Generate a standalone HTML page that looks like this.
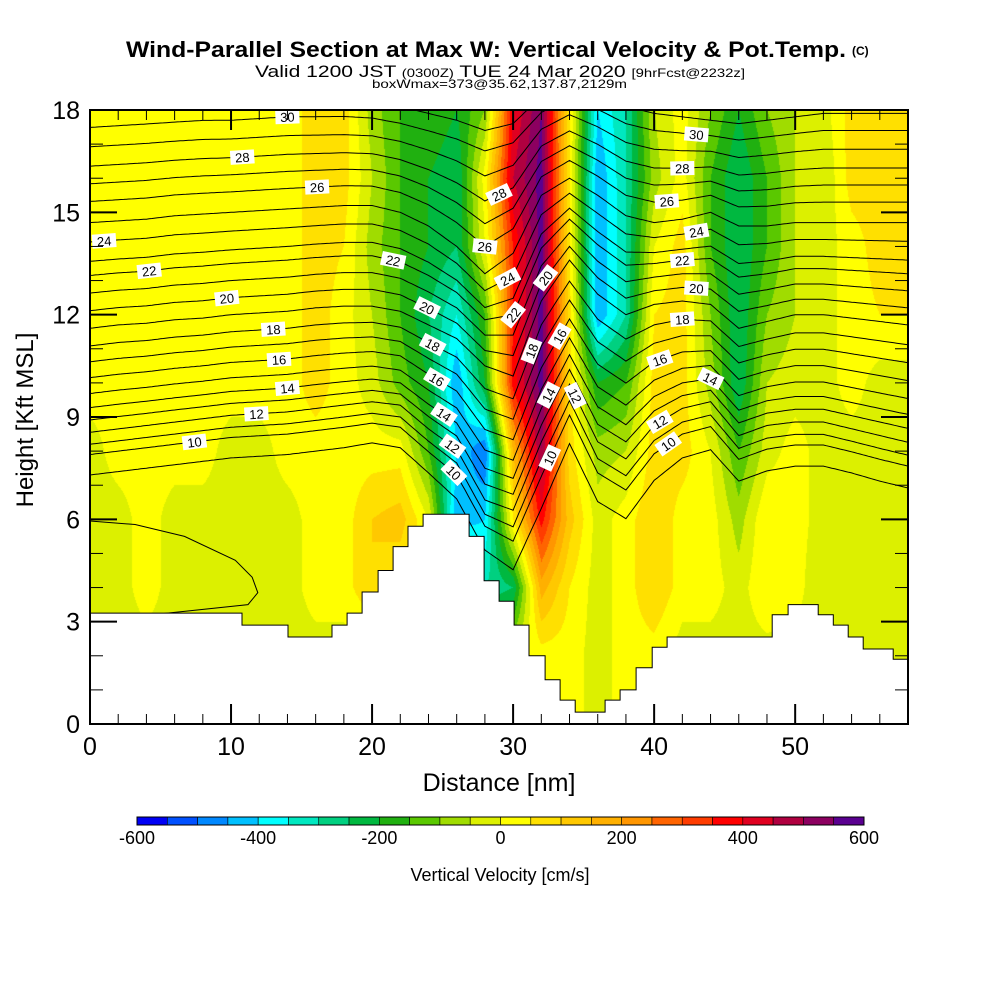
<!DOCTYPE html>
<html><head><meta charset="utf-8"><title>Wind-Parallel Section</title>
<style>
body{margin:0;background:#fff;}
#wrap{position:relative;width:1000px;height:1000px;overflow:hidden;background:#fff;}
canvas{position:absolute;left:90px;top:110px;}
svg{position:absolute;left:0;top:0;}
text{font-family:"Liberation Sans",sans-serif;}
</style></head>
<body>
<div id="wrap">
<canvas id="field" width="818" height="614"></canvas>
<svg id="chart" width="1000" height="1000" viewBox="0 0 1000 1000">
  <defs><clipPath id="plotClip"><rect x="90" y="110" width="818" height="614"/></clipPath></defs>
  <text x="126" y="57" font-size="22" font-weight="bold" textLength="720" lengthAdjust="spacingAndGlyphs">Wind-Parallel Section at Max W: Vertical Velocity &amp; Pot.Temp.</text>
  <text x="852" y="55" font-size="12" font-weight="bold">(C)</text>
  <text x="255" y="77" font-size="17" textLength="490" lengthAdjust="spacingAndGlyphs">Valid 1200 JST <tspan font-size="12">(0300Z)</tspan> TUE 24 Mar 2020 <tspan font-size="12">[9hrFcst@2232z]</tspan></text>
  <text x="372" y="88" font-size="12" textLength="255" lengthAdjust="spacingAndGlyphs">boxWmax=373@35.62,137.87,2129m</text>
  <g id="contours" clip-path="url(#plotClip)"></g>
  <g id="terrain"></g>
  <g id="labels" clip-path="url(#plotClip)"></g>
  <g id="axes"></g>
  <text x="0" y="0" font-size="24" text-anchor="middle" transform="translate(33,420) rotate(-90)">Height [Kft MSL]</text>
  <text x="499" y="791" font-size="25" text-anchor="middle">Distance [nm]</text>
  <g id="colorbar"></g>
  <text x="500" y="881" font-size="18" text-anchor="middle">Vertical Velocity [cm/s]</text>
</svg>
</div>
<script>
// ---- vertical velocity grid (cm/s), columns every 2 nm from 0 to 58, rows every 2 kft ----
const wCols = [0,2,4,6,8,10,12,14,16,18,20,22,24,26,28,30,32,34,36,38,40,42,44,46,48,50,52,54,56,58];
const w00 = [-25,-25,-25,-25,-25,-25,-25,-25,-25,-25,-25,-25,-25,-25,-25,-25,25,25,-25,25,25,-25,-25,-25,-25,-25,-25,-25,-25,-25];
const w02 = [-25,-25,-25,-25,-25,-25,-25,-25,-25,-25,-25,-25,-25,-25,-25,-25,25,25,-25,25,25,-25,-25,-25,-25,-25,-25,-25,-25,-25];
const w04 = [-25,-25,25,-25,-25,-25,-25,-25,25,25,100,50,0,0,-300,-250,175,50,-25,25,100,25,25,-25,50,25,-50,-25,-25,-25];
const w06 = [-25,-25,25,-25,-25,-25,-25,-25,25,25,100,125,0,-450,-400,50,375,125,-25,25,100,25,25,-75,50,25,-25,-25,-25,-25];
const w08 = [-25,25,25,25,25,-25,-25,25,25,25,25,25,-150,-400,-500,150,500,75,-75,-50,75,75,0,-150,-25,25,-25,-25,-25,-25];
const w10 = [25,25,25,25,25,25,25,25,75,25,-25,-125,-200,-450,-200,375,575,75,-200,-150,75,75,-75,-250,-50,-25,-25,25,-25,-25];
const w12 = [25,25,25,25,25,25,25,25,75,25,-50,-150,-250,-350,-150,350,575,75,-450,-300,50,75,-100,-250,-100,-50,-25,25,50,50];
const w14 = [25,25,25,25,25,25,25,25,75,50,-75,-150,-200,-250,0,350,575,50,-450,-300,0,75,-150,-250,-150,-50,-25,25,75,75];
const w16 = [25,25,25,25,25,25,25,25,75,75,-50,-150,-200,-250,25,450,575,50,-450,-300,-75,25,-150,-250,-150,-50,-50,75,75,75];
const w18 = [25,25,25,25,25,25,25,25,75,75,-75,-150,-150,-200,-100,400,550,50,-400,-300,-50,25,-100,-200,-100,-50,-25,75,75,75];
const wRows = [w00,w02,w04,w06,w08,w10,w12,w14,w16,w18];

// ---- colour scale ----
const cbTicks = [-600,-400,-200,0,200,400,600];
const cbColors = ['#0000f5','#0050ff','#0088ff','#00c0ff','#00ffff','#00e8c0','#00d080','#00b840','#20b010','#5ac800','#a0dc00','#dcf000','#ffff00','#ffe000','#ffc800','#ffb000','#ff9600','#ff6400','#ff3c00','#ff0000','#e00020','#b00040','#8c0060','#5a0090'];

// ---- potential temperature contours ----
const thetaLevels = [9,10,11,12,13,14,15,16,17,18,19,20,21,22,23,24,25,26,27,28,29,30,31];
const thetaBase = [7.8,8.4,8.7,9.05,9.4,9.75,10.15,10.6,11.05,11.5,12.0,12.5,13.0,13.5,13.9,14.45,15.0,15.6,16.1,16.6,17.15,17.7,18.2];
const dispHeights = [6,9,12,15,18];
const disp06 = [-0.5,-0.4,-0.3,-0.2,-0.1,0,0.05,0.1,0.2,0.3,0.5,0.3,-0.5,-1.5,-3.0,-4.0,-2.5,-0.3,-2.0,-2.5,-1.2,-0.3,0.0,-0.8,-0.5,-0.3,-0.3,-0.5,-0.8,-1.0];
const disp09 = [-0.5,-0.4,-0.3,-0.2,-0.1,0,0.05,0.1,0.2,0.3,0.4,0.3,-0.4,-1.0,-2.5,-2.8,-0.8,0.9,-0.8,-1.3,-0.3,0.2,0.4,-0.6,-0.3,-0.2,-0.2,-0.4,-0.6,-0.8];
const disp12 = [-0.4,-0.3,-0.25,-0.15,-0.1,0,0.05,0.1,0.2,0.25,0.25,0.1,-0.3,-0.7,-1.5,-1.8,0.4,1.6,0.6,0.0,0.3,0.4,0.3,-0.4,-0.2,0.0,0.0,-0.1,-0.2,-0.3];
const disp15 = [-0.3,-0.25,-0.2,-0.1,-0.05,0,0.05,0.1,0.15,0.2,0.2,0.0,-0.4,-1.0,-1.8,-1.2,0.5,1.0,0.5,-0.1,-0.3,-0.2,0.0,-0.4,-0.4,-0.3,-0.3,-0.3,-0.3,-0.3];
const disp18 = [-0.2,-0.15,-0.1,-0.05,0,0,0.05,0.1,0.1,0.1,0.05,-0.1,-0.3,-0.5,-0.8,-0.6,0.2,0.6,0.3,-0.1,-0.3,-0.4,-0.5,-0.6,-0.5,-0.4,-0.3,-0.3,-0.3,-0.3];
const dispRows = [disp06,disp09,disp12,disp15,disp18];
const theta8X = [0,3.2,6.7,10.3,11.5,11.9,11.2,4.4];
const theta8Z = [5.95,5.85,5.5,4.8,4.3,3.85,3.5,3.2];
const labelLevels = [30,28,26,24,22,20,18,16,14,12,10, 22,20,18,16,14,12,10, 28,26,24,22,20,18,16,14,12,10, 30,28,26,24,22,20,18,16,14,12,10];
const labelX = [14.0,10.8,16.1,1.0,4.2,9.7,13.0,13.4,14.0,11.8,7.4, 21.5,23.9,24.3,24.6,25.1,25.7,25.8, 29.0,28.0,29.6,30.0,32.3,31.3,33.3,32.5,34.4,32.6, 43,42,40.9,43,42,43,42,40.4,44,40.4,41];

// ---- terrain steps ----
const terrX = [0,10.78,14.04,17.16,18.23,19.29,20.43,21.49,22.55,23.62,26.88,27.94,29.01,30.07,31.13,32.27,33.33,34.4,36.52,37.59,38.72,39.86,40.92,48.37,49.5,51.63,52.7,53.76,54.82,56.95];
const terrH = [3.25,2.9,2.55,2.9,3.25,3.87,4.5,5.2,5.8,6.15,5.5,4.2,3.6,2.9,2.0,1.3,0.7,0.35,0.7,1.0,1.65,2.25,2.55,3.2,3.5,3.2,2.9,2.55,2.2,1.9];

// ---- axes ----
const xTicks = [0,10,20,30,40,50];
const yTicks = [0,3,6,9,12,15,18];
const X_MAX = 58, Y_MAX = 18;
const PL = 90, PT = 110, PW = 818, PH = 614;
const xS = nm => PL + nm * PW / X_MAX;
const yS = k => PT + PH - k * PH / Y_MAX;
const NS = 'http://www.w3.org/2000/svg';
function mk(tag, attrs, parent){ const e=document.createElementNS(NS,tag); for(const k in attrs) e.setAttribute(k,attrs[k]); parent.appendChild(e); return e; }
function rowInterp(row, nm){ let f=nm/2; let i=Math.max(0,Math.min(row.length-2,Math.floor(f))); let t=Math.max(0,Math.min(1,f-i)); return row[i]*(1-t)+row[i+1]*t; }

// field
(function(){
  const cv=document.getElementById('field'); const ctx=cv.getContext('2d');
  const img=ctx.createImageData(PW,PH);
  const rgb=cbColors.map(h=>[parseInt(h.substr(1,2),16),parseInt(h.substr(3,2),16),parseInt(h.substr(5,2),16)]);
  for(let py=0;py<PH;py++){
    const k=(PH-py-0.5)*Y_MAX/PH; let f=k/2; let j=Math.max(0,Math.min(wRows.length-2,Math.floor(f))); let tj=Math.max(0,Math.min(1,f-j));
    for(let px=0;px<PW;px++){
      const nm=(px+0.5)*X_MAX/PW;
      const w=rowInterp(wRows[j],nm)*(1-tj)+rowInterp(wRows[j+1],nm)*tj;
      let b=Math.floor((w+600)/50); b=Math.max(0,Math.min(23,b));
      const c=rgb[b], o=(py*PW+px)*4;
      img.data[o]=c[0];img.data[o+1]=c[1];img.data[o+2]=c[2];img.data[o+3]=255;
    }
  }
  ctx.putImageData(img,0,0);
})();

function disp(nm,h){
  let hh=Math.max(dispHeights[0],Math.min(dispHeights[dispHeights.length-1],h));
  let j=0; while(j<dispHeights.length-2 && hh>dispHeights[j+1]) j++;
  const t=(hh-dispHeights[j])/(dispHeights[j+1]-dispHeights[j]);
  return rowInterp(dispRows[j],nm)*(1-t)+rowInterp(dispRows[j+1],nm)*t;
}
function thetaZ(level,nm){ const i=thetaLevels.indexOf(level); const h=thetaBase[i]; return h+disp(nm,h); }

// contours
const cg=document.getElementById('contours');
thetaLevels.forEach(lv=>{
  let pts=[]; for(let nm=0;nm<=X_MAX+0.001;nm+=0.2){ pts.push(xS(nm).toFixed(1)+','+yS(thetaZ(lv,nm)).toFixed(1)); }
  const p=mk('polyline',{points:pts.join(' '),fill:'none',stroke:'#000','stroke-width':'1'},cg);
  
  
});
{
  const pts=theta8X.map((x,i)=>xS(x).toFixed(1)+','+yS(theta8Z[i]).toFixed(1));
  const p=mk('polyline',{points:pts.join(' '),fill:'none',stroke:'#000','stroke-width':'1'},cg);
  
  
}

// terrain
{
  const tg=document.getElementById('terrain');
  let d='M'+xS(0)+','+yS(0);
  for(let i=0;i<terrX.length;i++){ const x1=xS(terrX[i]), x2=xS(i+1<terrX.length?terrX[i+1]:X_MAX), y=yS(terrH[i]); d+=' L'+x1.toFixed(1)+','+y.toFixed(1)+' L'+x2.toFixed(1)+','+y.toFixed(1); }
  d+=' L'+xS(X_MAX)+','+yS(0)+' Z';
  const p=mk('path',{d:d,fill:'#fff',stroke:'#000','stroke-width':'1'},tg);
  
  
}

// contour labels
{
  const lg=document.getElementById('labels');
  labelLevels.forEach((lv,i)=>{
    const nm=labelX[i]; const x=xS(nm), y=yS(thetaZ(lv,nm));
    const dy=yS(thetaZ(lv,nm+0.3))-yS(thetaZ(lv,nm-0.3)); const dx=xS(nm+0.3)-xS(nm-0.3);
    let a=Math.atan2(dy,dx)*180/Math.PI; a=Math.max(-75,Math.min(75,a));
    const g=mk('g',{transform:'translate('+x.toFixed(1)+','+y.toFixed(1)+') rotate('+a.toFixed(1)+')'},lg);
    
    
    mk('rect',{x:-12,y:-7,width:24,height:14,fill:'#fff'},g);
    mk('text',{x:0,y:5,'font-size':'13','text-anchor':'middle','font-family':'Liberation Serif, serif'},g).textContent=String(lv);
  });
}

// axes
{
  const ag=document.getElementById('axes');
  for(let k=0;k<=Y_MAX;k++){
    const major=(k%3===0); const len=major?27:13; const y=yS(k);
    const t1=mk('line',{x1:PL,y1:y,x2:PL+len,y2:y,stroke:'#000','stroke-width':major?2:1},ag);
    
    
    const t2=mk('line',{x1:PL+PW,y1:y,x2:PL+PW-len,y2:y,stroke:'#000','stroke-width':major?2:1},ag);
    
    
  }
  for(let nm=0;nm<=X_MAX;nm+=2){
    const major=(nm%10===0); const len=major?20:10; const x=xS(nm);
    const t1=mk('line',{x1:x,y1:PT+PH,x2:x,y2:PT+PH-len,stroke:'#000','stroke-width':major?2:1},ag);
    
    
    const t2=mk('line',{x1:x,y1:PT,x2:x,y2:PT+len,stroke:'#000','stroke-width':major?2:1},ag);
    
    
  }
  const fr=mk('rect',{x:PL,y:PT,width:PW,height:PH,fill:'none',stroke:'#000','stroke-width':2},ag);
  
  
  yTicks.forEach(k=>{
    const t=mk('text',{x:80,y:yS(k)+9,'font-size':'25','text-anchor':'end'},ag); t.textContent=String(k);
    
    
  });
  xTicks.forEach(n=>{
    const t=mk('text',{x:xS(n),y:755,'font-size':'25','text-anchor':'middle'},ag); t.textContent=String(n);
    
    
  });
}

// colorbar
{
  const bg=document.getElementById('colorbar');
  const x0=137,x1=864,w=(x1-x0)/cbColors.length;
  cbColors.forEach((c,i)=>{
    const r=mk('rect',{x:(x0+i*w).toFixed(2),y:817,width:w.toFixed(2),height:8,fill:c,stroke:'#000','stroke-width':'0.6'},bg);
    
    
  });
  const fr=mk('rect',{x:x0,y:817,width:x1-x0,height:8,fill:'none',stroke:'#000','stroke-width':1},bg);
  
  
  cbTicks.forEach(v=>{
    const t=mk('text',{x:x0+(v+600)/1200*(x1-x0),y:844,'font-size':'18','text-anchor':'middle'},bg); t.textContent=String(v);
    
    
  });
}
</script>
</body></html>
